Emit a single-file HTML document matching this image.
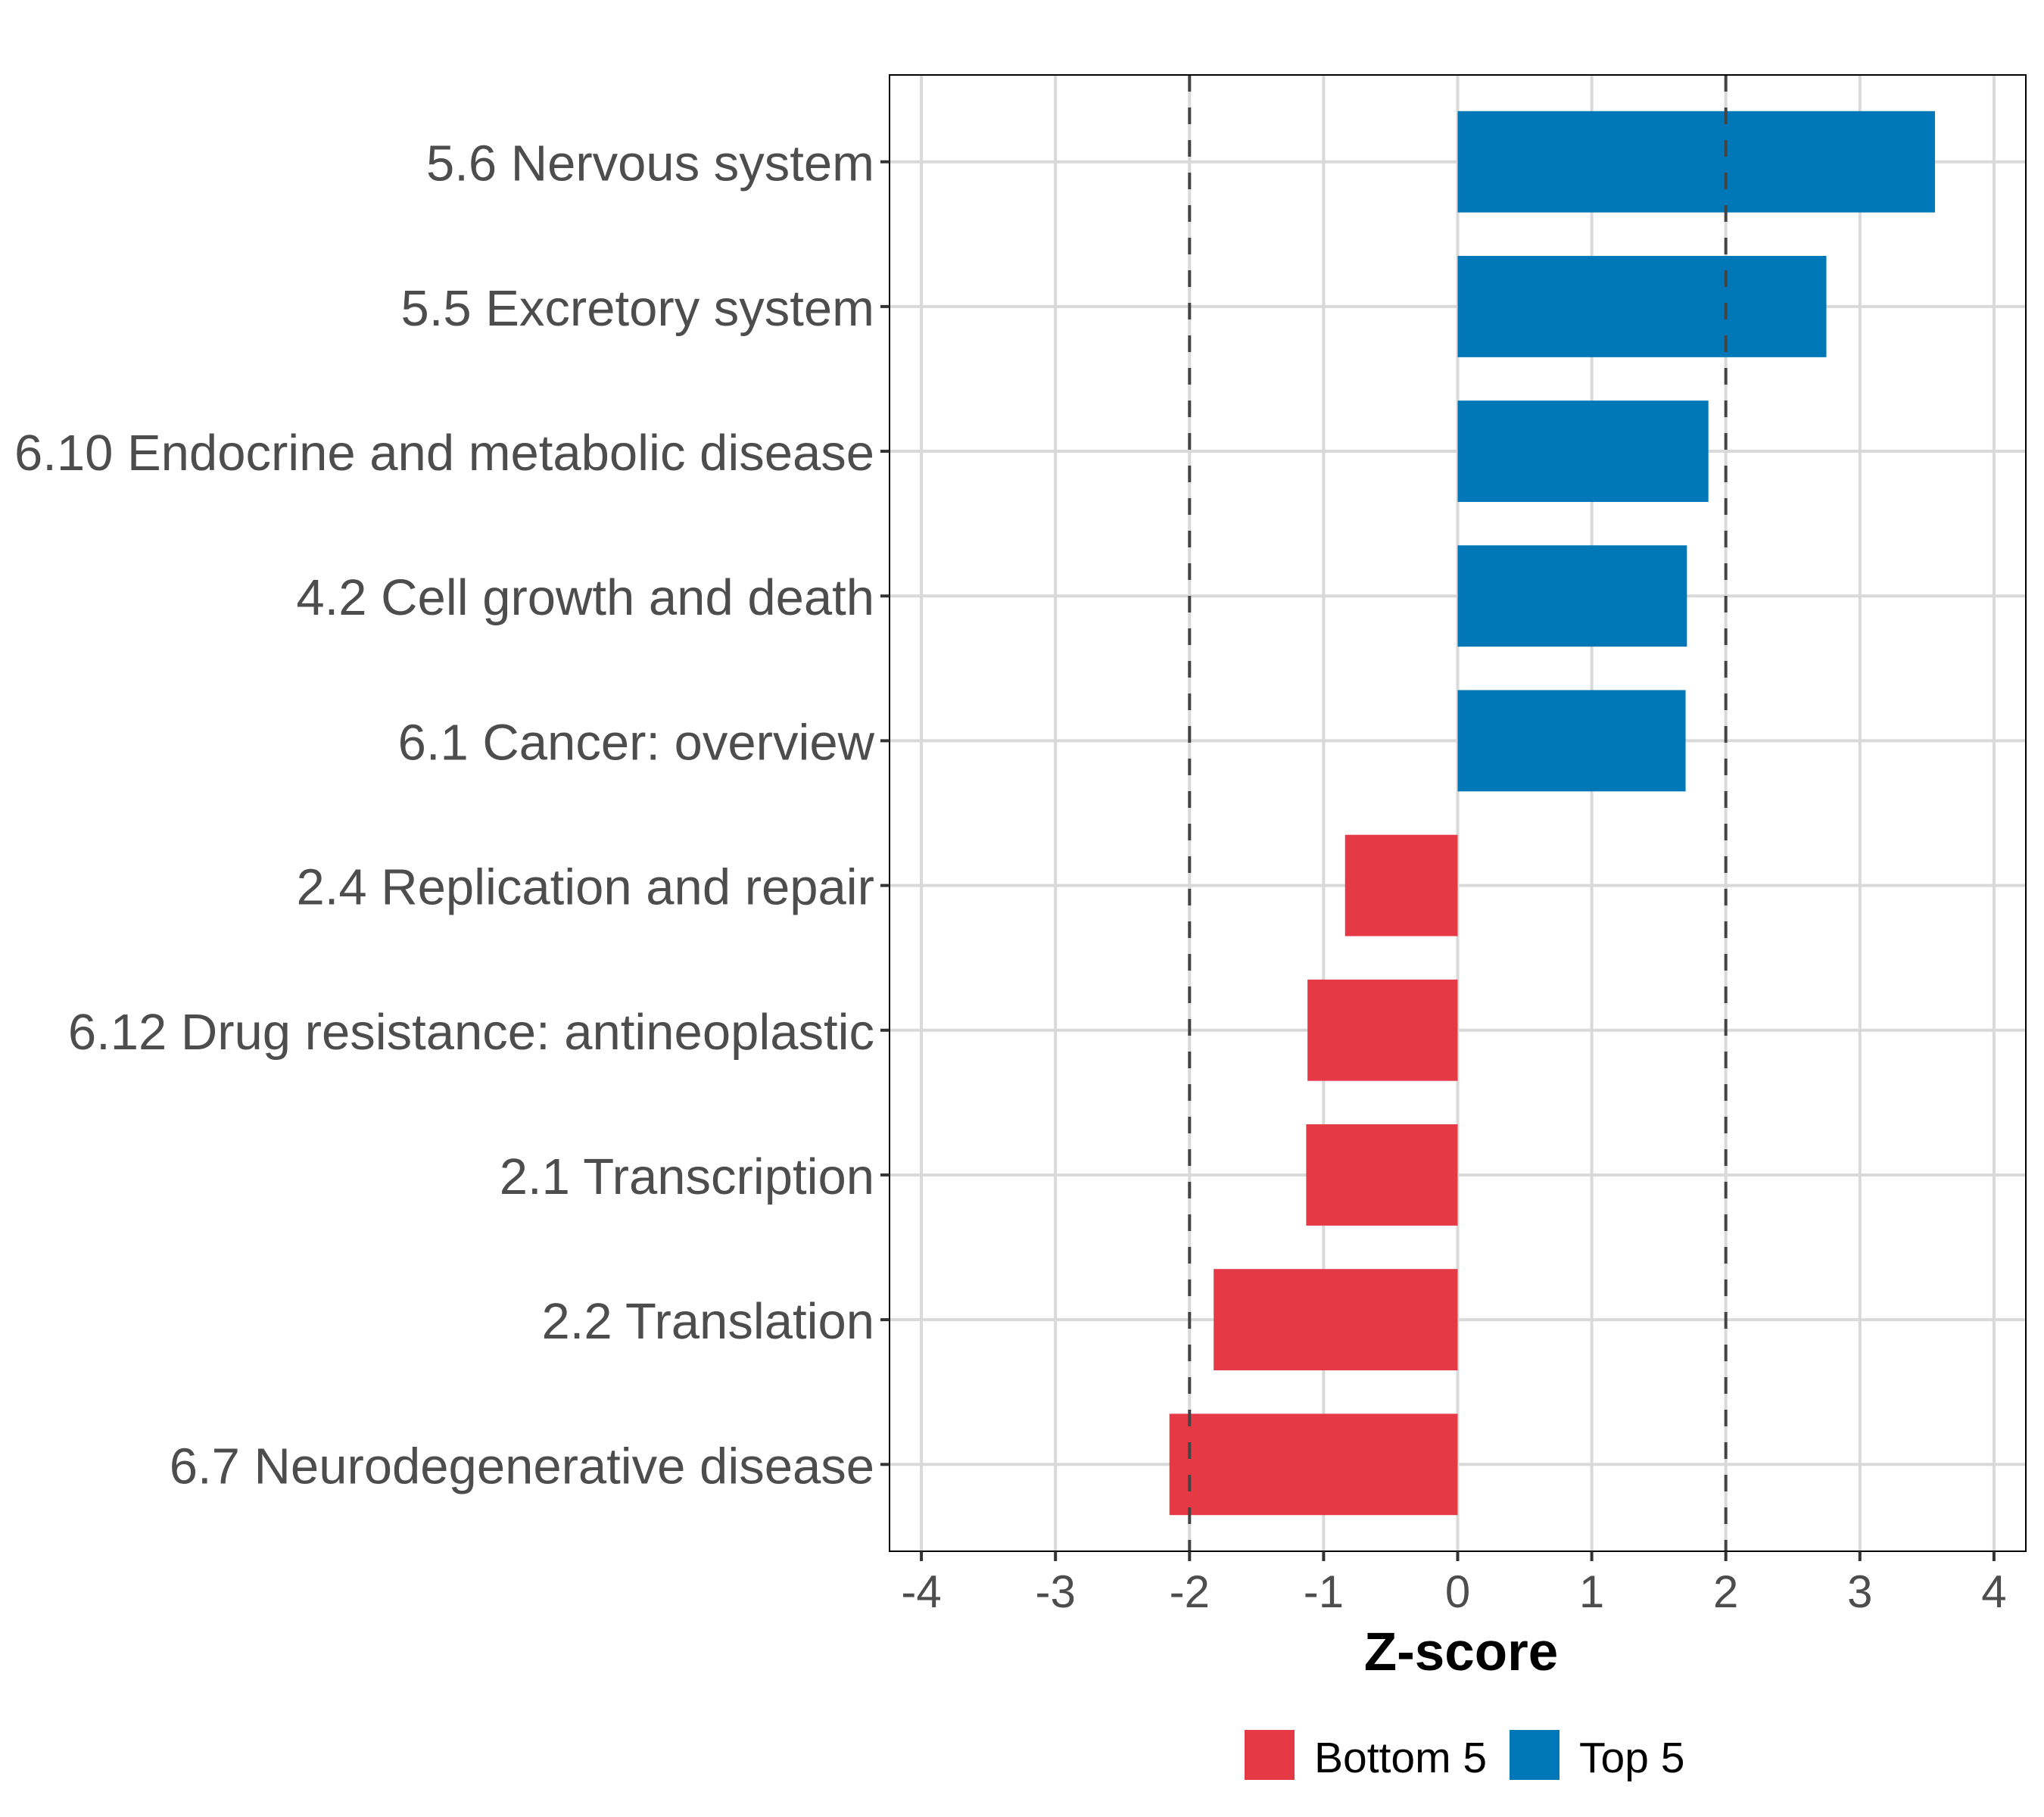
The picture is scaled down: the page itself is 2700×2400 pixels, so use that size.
<!DOCTYPE html>
<html><head><meta charset="utf-8"><style>
html,body{margin:0;padding:0;background:#fff;}
svg{display:block;font-family:"Liberation Sans",Arial,sans-serif;}
</style></head><body>
<svg id="chart" width="2700" height="2400" viewBox="0 0 2700 2400" xmlns="http://www.w3.org/2000/svg">
<rect x="0" y="0" width="2700" height="2400" fill="#fff"/>
<g id="grid"></g>
<g id="bars"></g>
<g id="refs"></g>
<g id="axes"></g>
<g id="legend"></g>
</svg>
<script>
const categories = ["5.6 Nervous system","5.5 Excretory system","6.10 Endocrine and metabolic disease","4.2 Cell growth and death","6.1 Cancer: overview","2.4 Replication and repair","6.12 Drug resistance: antineoplastic","2.1 Transcription","2.2 Translation","6.7 Neurodegenerative disease"];
const values = [3.56, 2.75, 1.87, 1.71, 1.70, -0.84, -1.12, -1.13, -1.82, -2.15];
const groups = ["Top 5","Top 5","Top 5","Top 5","Top 5","Bottom 5","Bottom 5","Bottom 5","Bottom 5","Bottom 5"];
const xTicks = [-4,-3,-2,-1,0,1,2,3,4];
const refLines = [-2, 2];
const legendLabels = ["Bottom 5","Top 5"];

const NS = "http://www.w3.org/2000/svg";
const P = {left:1175, right:2676, top:99, bottom:2049};
const colors = {"Bottom 5":"#E63946","Top 5":"#0077B6"};
function xs(v){ return 1925.5 + v*177.1; }
const step = (P.bottom - P.top) / 10.2;
function ys(i){ return P.top + 0.6*step + i*step; }
const band = step*0.7;
function mk(tag, attrs, parent, text){
  const e = document.createElementNS(NS, tag);
  for (const k in attrs) e.setAttribute(k, attrs[k]);
  if (text !== undefined) e.textContent = text;
  parent.appendChild(e);
  return e;
}
const grid = document.getElementById('grid');
const bars = document.getElementById('bars');
const refs = document.getElementById('refs');
const axes = document.getElementById('axes');
const legend = document.getElementById('legend');

xTicks.forEach(t => {
  const l = mk('line', {x1:xs(t), x2:xs(t), y1:P.top, y2:P.bottom, stroke:'#d9d9d9', 'stroke-width':4}, grid);
  
  
});
categories.forEach((c,i) => {
  const l = mk('line', {x1:P.left, x2:P.right, y1:ys(i), y2:ys(i), stroke:'#d9d9d9', 'stroke-width':4}, grid);
  
  
});
values.forEach((v,i) => {
  const x0 = Math.min(xs(0), xs(v)), w = Math.abs(xs(v)-xs(0));
  const r = mk('rect', {x:x0, y:ys(i)-band/2, width:w, height:band, fill:colors[groups[i]]}, bars);
  
  
});
refLines.forEach(v => {
  const l = mk('line', {x1:xs(v), x2:xs(v), y1:P.top, y2:P.bottom, stroke:'#444', 'stroke-width':4, 'stroke-dasharray':'22,21'}, refs);
  
  
});
const border = mk('rect', {x:P.left, y:P.top, width:P.right-P.left, height:P.bottom-P.top, fill:'none', stroke:'#000', 'stroke-width':2}, axes);


xTicks.forEach(t => {
  const tk = mk('line', {x1:xs(t), x2:xs(t), y1:P.bottom, y2:P.bottom+13, stroke:'#333', 'stroke-width':4}, axes);
  
  
  const tx = mk('text', {x:xs(t), y:2123, 'text-anchor':'middle', 'font-size':60, fill:'#4d4d4d'}, axes, String(t));
  
  
});
categories.forEach((c,i) => {
  const tk = mk('line', {x1:P.left-12, x2:P.left, y1:ys(i), y2:ys(i), stroke:'#333', 'stroke-width':4}, axes);
  
  
  const tx = mk('text', {x:1155, y:ys(i)+25, 'text-anchor':'end', 'font-size':67, fill:'#4d4d4d'}, axes, c);
  
  
});
const xt = mk('text', {x:1930, y:2206, 'text-anchor':'middle', 'font-size':71, 'font-weight':'bold', fill:'#000'}, axes, 'Z-score');


const legX = [1644, 1994];
legendLabels.forEach((lab,k) => {
  const r = mk('rect', {x:legX[k], y:2285, width:66, height:66, fill:colors[lab]}, legend);
  
  
  const t = mk('text', {x:legX[k]+92, y:2341, 'font-size':57, fill:'#000'}, legend, lab);
  
  
});
</script>
</body></html>
